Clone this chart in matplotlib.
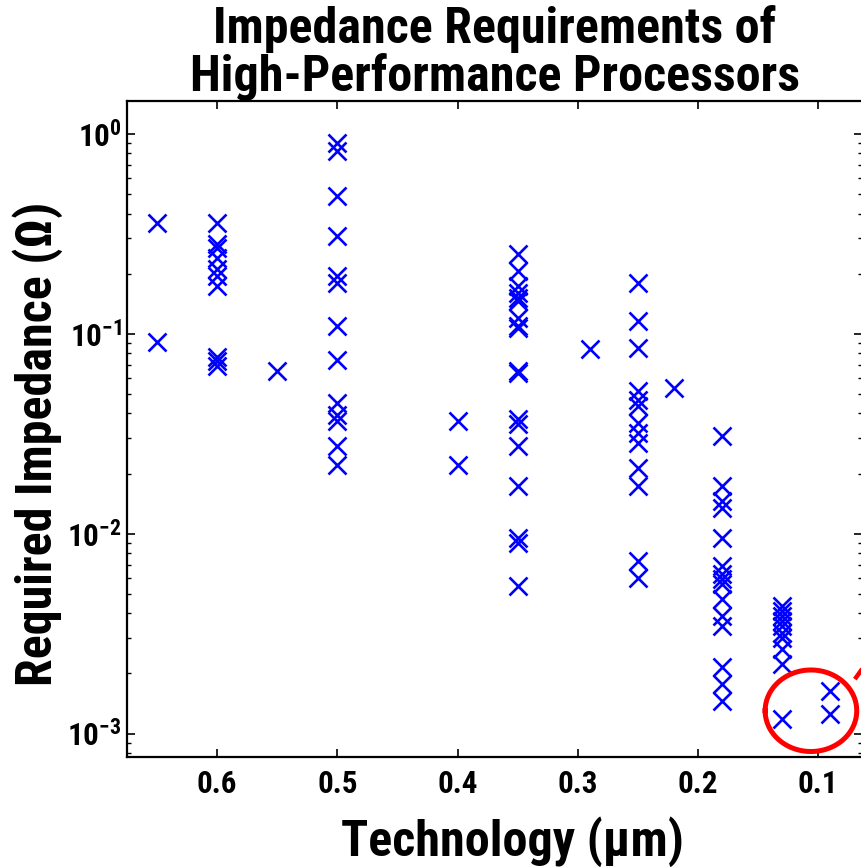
import matplotlib
matplotlib.use('Agg')
import matplotlib.pyplot as plt
from matplotlib import font_manager
from matplotlib.font_manager import FontProperties
from matplotlib.textpath import TextPath
from matplotlib.ticker import LogLocator, FuncFormatter, NullFormatter
import numpy as np

# technology node (um) and required impedance (ohm) per processor
z_065 = [0.36, 0.091]
z_060 = [0.36, 0.28, 0.27, 0.24, 0.21, 0.194, 0.173, 0.077, 0.073, 0.069]
z_055 = [0.065]
z_050 = [0.90, 0.82, 0.49, 0.31, 0.194, 0.18, 0.11, 0.074, 0.045, 0.0394, 0.0366, 0.0274, 0.022]
z_040 = [0.0366, 0.022]
z_035 = [0.252, 0.206, 0.173, 0.160, 0.151, 0.146, 0.120, 0.109, 0.107, 0.065, 0.0635,
         0.0373, 0.0352, 0.0274, 0.0174, 0.00955, 0.00902, 0.00547]
z_029 = [0.0844]
z_025 = [0.18, 0.1156, 0.0851, 0.0516, 0.0469, 0.0435, 0.0359, 0.032, 0.0285, 0.0214,
         0.0173, 0.0073, 0.00603]
z_022 = [0.0537]
z_018 = [0.0308, 0.0173, 0.01456, 0.0135, 0.00955, 0.00689, 0.00626, 0.00591, 0.00558,
         0.00469, 0.00388, 0.00345, 0.00214, 0.00176, 0.00146]
z_013 = [0.00435, 0.0041, 0.00388, 0.00366, 0.00345, 0.0032, 0.00302, 0.00264, 0.00222, 0.00118]
z_009 = [0.00163, 0.00125]

nodes = [0.65, 0.6, 0.55, 0.5, 0.4, 0.35, 0.29, 0.25, 0.22, 0.18, 0.13, 0.09]
groups = [z_065, z_060, z_055, z_050, z_040, z_035, z_029, z_025, z_022, z_018, z_013, z_009]

x_ticks = [0.6, 0.5, 0.4, 0.3, 0.2, 0.1]

title = 'Impedance Requirements of\nHigh-Performance Processors'
xlabel = 'Technology (\u00b5m)'
ylabel = 'Required Impedance (\u03a9)'

# highlight around the sub-0.13um parts
ring_x, ring_z = 0.106, 0.0013
ring_ax, ring_decades = 0.0381, 0.204

# pick a narrow bold grotesque, sized to the same line widths as Liberation Sans Bold
bold_faces = {f.name for f in font_manager.fontManager.ttflist if f.weight in (700, 'bold')}
face = 'Liberation Sans'
for cand in ['Roboto Condensed', 'Archivo Narrow', 'PT Sans Narrow', 'Arimo']:
    if cand in bold_faces:
        face = cand
        break


def width(s, fam):
    p = FontProperties(family=fam, weight='bold')
    return TextPath((0, 0), s, size=10, prop=p).get_extents().width


k_big = width('High-Performance Processors', 'Liberation Sans') / width('High-Performance Processors', face)
k_small = width('0.6 0.5 0.4', 'Liberation Sans') / width('0.6 0.5 0.4', face)
big = 30.5 * k_big
small = 20.5 * k_small

plt.rcParams['font.family'] = [face, 'DejaVu Sans']
plt.rcParams['font.weight'] = 'bold'
plt.rcParams['mathtext.fontset'] = 'custom'
plt.rcParams['mathtext.rm'] = face + ':bold'
plt.rcParams['mathtext.it'] = face + ':bold'
plt.rcParams['mathtext.bf'] = face + ':bold'

fig = plt.figure(figsize=(8.61, 8.67), dpi=100)
ax = fig.add_axes([0.1475, 0.1263, 0.8537, 0.7572])

x = []
y = []
for n, g in zip(nodes, groups):
    x += [n] * len(g)
    y += g
ax.plot(x, y, linestyle='none', marker='x', color='#0000ff', markersize=13, markeredgewidth=1.9)

t = np.linspace(0, 2 * np.pi, 200)
ax.plot(ring_x + ring_ax * np.cos(t), ring_z * 10 ** (ring_decades * np.sin(t)),
        color='#ff0000', linewidth=3.6)
ax.plot([0.0684, 0.0645], [0.00191, 0.00206], color='#ff0000', linewidth=3.2, clip_on=False)

ax.set_yscale('log')
ax.set_xlim(0.675, 0.0635)
ax.set_ylim(10 ** -3.12, 10 ** 0.165)
ax.set_xticks(x_ticks)
ax.set_xticklabels(['%.1f' % v for v in x_ticks])
ax.yaxis.set_major_locator(LogLocator(base=10))
ax.yaxis.set_minor_locator(LogLocator(base=10, subs=np.arange(2, 10)))
ax.yaxis.set_major_formatter(FuncFormatter(lambda v, p: r'$10^{%d}$' % round(np.log10(v))))
ax.yaxis.set_minor_formatter(NullFormatter())

ax.tick_params(which='both', direction='in', top=True, right=True, labelsize=small)
ax.tick_params(axis='x', pad=8)
ax.tick_params(axis='y', pad=4)
ax.tick_params(which='major', length=6, width=1.2)
ax.tick_params(which='minor', length=3, width=1.0)
for s in ax.spines.values():
    s.set_linewidth(1.6)

ax.set_title(title, fontsize=big, fontweight='bold', linespacing=1.0, pad=2)
ax.set_xlabel(xlabel, fontsize=big, fontweight='bold')
ax.set_ylabel(ylabel, fontsize=big, fontweight='bold')
ax.xaxis.set_label_coords(0.524, -0.09)
ax.yaxis.set_label_coords(-0.087, 0.478)

fig.savefig('out.png', dpi=100)
